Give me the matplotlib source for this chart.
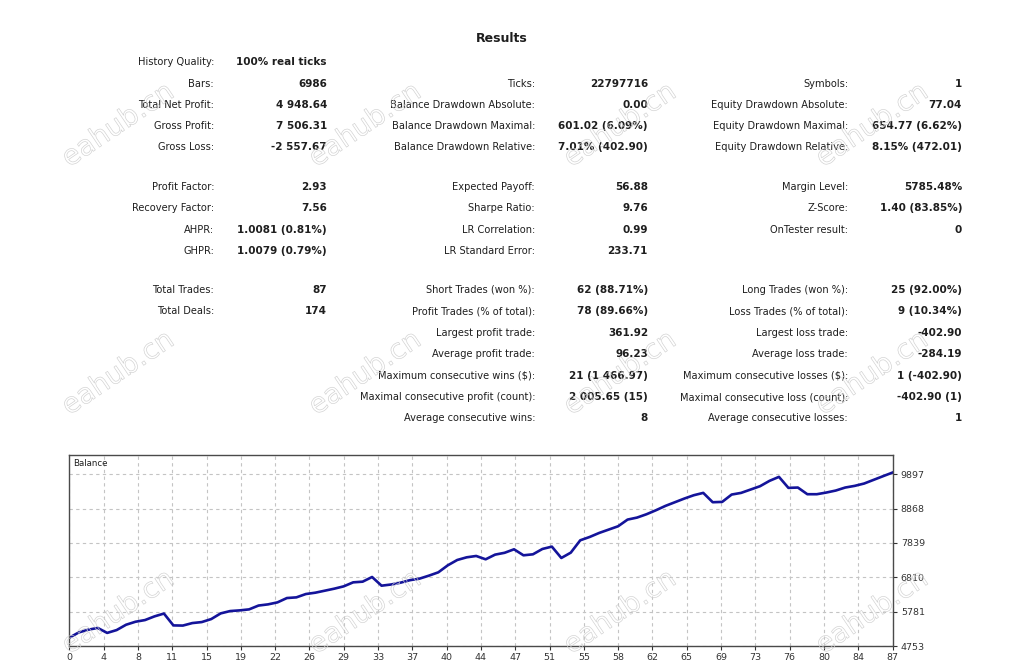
import numpy as np
import matplotlib
matplotlib.use("Agg")
import matplotlib.pyplot as plt
import matplotlib.patheffects as pe

# --- figure size in pixels ---
W, H = 1024, 671
DPI = 100

# --- report table (label, value); None = empty row ---
row_y = [62, 84, 105, 126, 147, 187, 208, 230, 251, 290, 311, 333, 354, 376, 397, 418]

col1 = [
    ("History Quality:", "100% real ticks"),
    ("Bars:", "6986"),
    ("Total Net Profit:", "4 948.64"),
    ("Gross Profit:", "7 506.31"),
    ("Gross Loss:", "-2 557.67"),
    ("Profit Factor:", "2.93"),
    ("Recovery Factor:", "7.56"),
    ("AHPR:", "1.0081 (0.81%)"),
    ("GHPR:", "1.0079 (0.79%)"),
    ("Total Trades:", "87"),
    ("Total Deals:", "174"),
    None, None, None, None, None,
]
col2 = [
    None,
    ("Ticks:", "22797716"),
    ("Balance Drawdown Absolute:", "0.00"),
    ("Balance Drawdown Maximal:", "601.02 (6.09%)"),
    ("Balance Drawdown Relative:", "7.01% (402.90)"),
    ("Expected Payoff:", "56.88"),
    ("Sharpe Ratio:", "9.76"),
    ("LR Correlation:", "0.99"),
    ("LR Standard Error:", "233.71"),
    ("Short Trades (won %):", "62 (88.71%)"),
    ("Profit Trades (% of total):", "78 (89.66%)"),
    ("Largest profit trade:", "361.92"),
    ("Average profit trade:", "96.23"),
    ("Maximum consecutive wins ($):", "21 (1 466.97)"),
    ("Maximal consecutive profit (count):", "2 005.65 (15)"),
    ("Average consecutive wins:", "8"),
]
col3 = [
    None,
    ("Symbols:", "1"),
    ("Equity Drawdown Absolute:", "77.04"),
    ("Equity Drawdown Maximal:", "654.77 (6.62%)"),
    ("Equity Drawdown Relative:", "8.15% (472.01)"),
    ("Margin Level:", "5785.48%"),
    ("Z-Score:", "1.40 (83.85%)"),
    ("OnTester result:", "0"),
    None,
    ("Long Trades (won %):", "25 (92.00%)"),
    ("Loss Trades (% of total):", "9 (10.34%)"),
    ("Largest loss trade:", "-402.90"),
    ("Average loss trade:", "-284.19"),
    ("Maximum consecutive losses ($):", "1 (-402.90)"),
    ("Maximal consecutive loss (count):", "-402.90 (1)"),
    ("Average consecutive losses:", "1"),
]
# right edge of label / value per column (px)
col_x = [(214, 327), (535, 648), (848, 962)]

# --- balance curve ---
balance = [
    5000, 5160, 5240, 5295, 5145, 5230, 5390, 5480, 5530, 5640,
    5725, 5370, 5365, 5440, 5470, 5560, 5730, 5800, 5820, 5850,
    5965, 6000, 6060, 6190, 6210, 6310, 6350, 6410, 6470, 6540,
    6660, 6680, 6820, 6560, 6595, 6650, 6725, 6770, 6860, 6960,
    7170, 7330, 7410, 7450, 7350, 7490, 7545, 7650, 7470, 7500,
    7660, 7730, 7390, 7550, 7920, 8020, 8140, 8240, 8340, 8540,
    8600, 8700, 8820, 8950, 9060, 9170, 9270, 9340, 9060, 9070,
    9290, 9340, 9440, 9540, 9700, 9820, 9490, 9500, 9300, 9300,
    9350, 9410, 9500, 9550, 9620, 9730, 9840, 9948.64,
]
x_labels = ["0", "4", "8", "11", "15", "19", "22", "26", "29", "33", "37", "40", "44",
            "47", "51", "55", "58", "62", "65", "69", "73", "76", "80", "84", "87"]
y_ticks = [4753, 5781, 6810, 7839, 8868, 9897]
y_top = 10475

watermark = "eahub.cn"
wm_x = [118, 365, 620, 872]
wm_y = [125, 373, 612]


def fx(x):
    return x / W


def fy(y):
    return 1 - y / H


fig = plt.figure(figsize=(W / DPI, H / DPI), dpi=DPI)
fig.patch.set_facecolor("white")
plt.rcParams["font.family"] = ["DejaVu Sans"]

txt = "#1e1e1e"
fs_label = 7.1
fs_value = 7.5

fig.text(fx(502), fy(39), "Results", ha="center", va="center",
         fontsize=9, fontweight="bold", color=txt)

for col, (lx, vx) in zip([col1, col2, col3], col_x):
    for item, y in zip(col, row_y):
        if item is None:
            continue
        label, value = item
        fig.text(fx(lx), fy(y), label, ha="right", va="center", fontsize=fs_label, color=txt)
        fig.text(fx(vx), fy(y), value, ha="right", va="center", fontsize=fs_value,
                 fontweight="bold", color=txt)

# --- balance chart ---
ax = fig.add_axes([fx(69.3), fy(646), fx(892.5) - fx(69.3), fy(455) - fy(646)])
n = np.arange(len(balance))
ax.plot(n, balance, color="#14149a", lw=1.9, solid_joinstyle="round")
ax.set_xlim(0, len(balance) - 1)
ax.set_ylim(y_ticks[0], y_top)

ax.set_xticks(np.linspace(0, len(balance) - 1, len(x_labels)))
ax.set_xticklabels(x_labels)
ax.set_yticks(y_ticks)
ax.set_yticklabels([str(v) for v in y_ticks])
ax.yaxis.tick_right()
ax.tick_params(axis="both", labelsize=6.8, colors="#333333", length=3, width=0.8,
               direction="out", pad=2)
ax.tick_params(axis="y", pad=3)
ax.grid(True, color="#c4c4c4", linestyle=(0, (3, 3)), lw=0.8)
for s in ax.spines.values():
    s.set_color("#4a4a4a")
    s.set_linewidth(1.0)
ax.text(0.005, 0.955, "Balance", transform=ax.transAxes, ha="left", va="center",
        fontsize=6.2, color=txt)

# --- watermarks (outlined text) ---
for wy in wm_y:
    for wx in wm_x:
        fig.text(fx(wx), fy(wy), watermark, ha="center", va="center", rotation=34,
                 fontsize=20, color=(1, 1, 1, 0),
                 path_effects=[pe.Stroke(linewidth=0.45, foreground="#cfcfcf")],
                 zorder=10)

fig.savefig("out.png", dpi=DPI)
